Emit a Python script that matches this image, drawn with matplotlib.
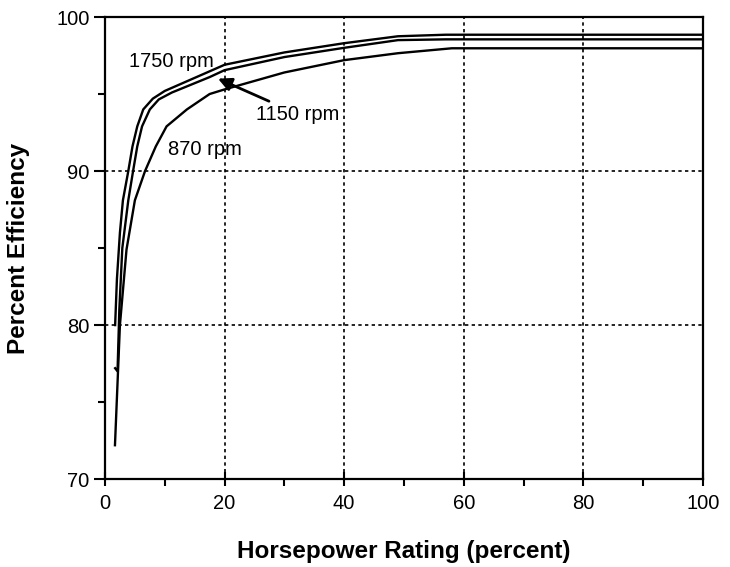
import matplotlib
matplotlib.use("Agg")
from matplotlib import pyplot as plt
from matplotlib.ticker import MultipleLocator

plt.rcParams['font.family'] = ['Liberation Sans', 'DejaVu Sans']

# curves (horsepower % -> efficiency %)
hp_1750 = [1.7, 2.0, 2.5, 3.0, 3.9, 4.6, 5.4, 6.4, 8.0, 10.0, 15.3, 20.0, 30.0, 40.0, 49.0, 57.0, 100.0]
eff_1750 = [80.0, 83.0, 86.0, 88.1, 90.0, 91.6, 92.9, 94.0, 94.7, 95.2, 96.1, 96.9, 97.7, 98.3, 98.75, 98.85, 98.85]

hp_1150 = [1.7, 2.1, 2.4, 2.9, 3.9, 4.7, 5.4, 6.2, 7.5, 9.0, 11.2, 17.5, 20.0, 30.0, 40.0, 49.0, 57.0, 100.0]
eff_1150 = [77.2, 77.0, 81.0, 85.0, 88.1, 90.0, 91.6, 92.9, 94.0, 94.65, 95.1, 96.1, 96.55, 97.4, 98.0, 98.5, 98.55, 98.55]

hp_870 = [1.67, 2.5, 3.6, 5.0, 6.7, 8.5, 10.3, 13.7, 17.5, 20.0, 30.0, 40.0, 49.0, 58.0, 100.0]
eff_870 = [72.2, 80.0, 84.9, 88.1, 90.0, 91.6, 92.9, 94.0, 95.0, 95.3, 96.4, 97.2, 97.65, 97.97, 97.97]

x_ticks = [0, 20, 40, 60, 80, 100]
y_ticks = [70, 80, 90, 100]

fig = plt.figure(figsize=(7.3, 5.67), dpi=100)
ax = fig.add_axes([0.1438, 0.155, 0.8192, 0.815])

for hp, eff in [(hp_1750, eff_1750), (hp_1150, eff_1150), (hp_870, eff_870)]:
    ax.plot(hp, eff, color="black", linewidth=1.7, zorder=3, solid_joinstyle="round")

ax.set_xlim(0, 100)
ax.set_ylim(70, 100)
ax.set_xticks(x_ticks)
ax.set_yticks(y_ticks)
ax.xaxis.set_minor_locator(MultipleLocator(10))
ax.yaxis.set_minor_locator(MultipleLocator(5))

# dotted grid at the inner majors
for gx in x_ticks[1:-1]:
    ax.axvline(gx, color="black", linestyle=(0, (2, 2)), linewidth=1.2, zorder=1)
for gy in y_ticks[1:-1]:
    ax.axhline(gy, color="black", linestyle=(0, (2, 2)), linewidth=1.2, zorder=1)

for s in ax.spines.values():
    s.set_linewidth(1.6)

ax.tick_params(axis="x", which="major", direction="inout", length=10, width=1.5, labelsize=14.5, pad=6)
ax.tick_params(axis="x", which="minor", direction="out", length=5, width=1.5)
ax.tick_params(axis="y", which="major", direction="out", length=8, width=1.5, labelsize=14.5, pad=3)
ax.tick_params(axis="y", which="minor", direction="out", length=5, width=1.5)

ax.set_xlabel("Horsepower Rating (percent)", fontsize=17.5, fontweight="bold", labelpad=19)
ax.set_ylabel("Percent Efficiency", fontsize=17.5, fontweight="bold", labelpad=19)

ax.text(4.0, 97.1, "1750 rpm", fontsize=14.5, va="center", ha="left")
ax.text(10.6, 91.4, "870 rpm", fontsize=14.5, va="center", ha="left")
ax.annotate("1150 rpm", xy=(18.9, 96.0), xytext=(25.3, 93.7), fontsize=14.5,
            va="center", ha="left",
            arrowprops=dict(arrowstyle="-|>", color="black", lw=2.0,
                            mutation_scale=20, shrinkA=1, shrinkB=0))

fig.savefig("out.png", dpi=100)
